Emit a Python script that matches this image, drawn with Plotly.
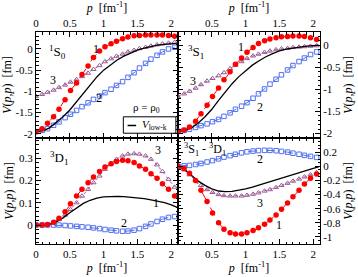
import plotly.graph_objects as go
from plotly.subplots import make_subplots

# momentum grid of the mesh points [fm^-1]
p_pts = [0.0, 0.09, 0.17, 0.26, 0.34, 0.43, 0.51, 0.6, 0.68, 0.77, 0.85, 0.94, 1.02,
         1.11, 1.19, 1.28, 1.36, 1.45, 1.53, 1.62, 1.7, 1.79, 1.87, 1.96, 2.05]
# grid of V_low-k line
p_line = [0.0, 0.1, 0.2, 0.3, 0.4, 0.5, 0.6, 0.7, 0.8, 0.9, 1.0, 1.1, 1.2, 1.3, 1.4,
          1.5, 1.6, 1.7, 1.8, 1.9, 2.0, 2.08]

# 1S0
s0_1 = [-1.95, -1.88, -1.75, -1.6, -1.42, -1.2, -0.98, -0.8, -0.6, -0.4, -0.2, -0.05, 0.05,
        0.12, 0.18, 0.24, 0.28, 0.31, 0.32, 0.33, 0.33, 0.33, 0.33, 0.32, 0.30]
s0_2 = [-1.95, -1.92, -1.88, -1.8, -1.72, -1.62, -1.54, -1.45, -1.36, -1.27, -1.19, -1.11, -1.03,
        -0.95, -0.86, -0.77, -0.67, -0.56, -0.45, -0.34, -0.24, -0.15, -0.07, 0.0, 0.04]
s0_3 = [-1.12, -1.07, -1.02, -0.97, -0.91, -0.85, -0.78, -0.72, -0.65, -0.57, -0.48, -0.39, -0.3,
        -0.23, -0.17, -0.12, -0.07, -0.03, 0.01, 0.04, 0.07, 0.1, 0.12, 0.14, 0.16]
s0_lk = [-1.95, -1.93, -1.86, -1.74, -1.6, -1.44, -1.25, -1.05, -0.85, -0.66, -0.5, -0.37, -0.26,
         -0.17, -0.09, -0.03, 0.02, 0.06, 0.09, 0.11, 0.12, 0.13]

# 3S1
s1_1 = [-1.95, -1.92, -1.85, -1.72, -1.55, -1.36, -1.16, -0.97, -0.78, -0.6, -0.43, -0.29, -0.16,
        -0.05, 0.04, 0.1, 0.14, 0.17, 0.19, 0.2, 0.21, 0.21, 0.2, 0.17, 0.13]
s1_2 = [-1.95, -1.93, -1.9, -1.86, -1.82, -1.78, -1.73, -1.68, -1.61, -1.53, -1.45, -1.38, -1.3,
        -1.2, -1.1, -0.99, -0.88, -0.77, -0.67, -0.56, -0.46, -0.37, -0.29, -0.21, -0.15]
s1_3 = [-1.16, -1.1, -1.04, -0.97, -0.89, -0.81, -0.75, -0.69, -0.62, -0.53, -0.45, -0.37, -0.3,
        -0.24, -0.2, -0.16, -0.13, -0.1, -0.08, -0.07, -0.05, -0.04, -0.03, -0.02, -0.01]
s1_lk = [-1.95, -1.93, -1.87, -1.76, -1.62, -1.45, -1.25, -1.05, -0.87, -0.71, -0.57, -0.45, -0.35,
         -0.26, -0.19, -0.13, -0.09, -0.06, -0.04, -0.02, -0.01, 0.0]

# 3D1
d1_1 = [0.0, 0.0, 0.002, 0.012, 0.03, 0.06, 0.095, 0.13, 0.16, 0.19, 0.215, 0.24, 0.26,
        0.275, 0.285, 0.29, 0.288, 0.28, 0.265, 0.25, 0.23, 0.21, 0.185, 0.16, 0.13]
d1_2 = [0.0, 0.0, 0.0, 0.0, 0.0, -0.002, -0.004, -0.006, -0.008, -0.01, -0.013, -0.016, -0.02,
        -0.023, -0.026, -0.028, -0.027, -0.023, -0.016, -0.006, 0.005, 0.016, 0.026, 0.034, 0.038]
d1_3 = [0.0, 0.0, 0.002, 0.01, 0.025, 0.045, 0.07, 0.1, 0.13, 0.16, 0.19, 0.22, 0.25,
        0.275, 0.295, 0.31, 0.318, 0.32, 0.318, 0.31, 0.295, 0.27, 0.24, 0.205, 0.17]
d1_lk = [0.0, 0.0, 0.003, 0.014, 0.032, 0.055, 0.078, 0.097, 0.111, 0.121, 0.126, 0.128, 0.128,
         0.127, 0.125, 0.122, 0.118, 0.113, 0.107, 0.1, 0.09, 0.08]

# 3S1 - 3D1
sd_1 = [0.0, -0.03, -0.1, -0.2, -0.34, -0.5, -0.66, -0.8, -0.89, -0.94, -0.96, -0.96, -0.94,
        -0.91, -0.87, -0.82, -0.76, -0.69, -0.61, -0.52, -0.43, -0.34, -0.25, -0.17, -0.11]
sd_2 = [0.0, 0.005, 0.012, 0.025, 0.04, 0.06, 0.08, 0.105, 0.13, 0.15, 0.17, 0.19, 0.205,
        0.215, 0.222, 0.225, 0.225, 0.22, 0.21, 0.2, 0.185, 0.17, 0.155, 0.14, 0.125]
sd_3 = [0.0, -0.05, -0.12, -0.2, -0.27, -0.33, -0.37, -0.4, -0.415, -0.42, -0.42, -0.42, -0.41,
        -0.395, -0.375, -0.35, -0.33, -0.3, -0.27, -0.24, -0.21, -0.18, -0.15, -0.12, -0.09]
sd_lk = [0.0, -0.05, -0.13, -0.21, -0.27, -0.32, -0.35, -0.36, -0.355, -0.34, -0.32, -0.295, -0.265,
         -0.235, -0.2, -0.17, -0.14, -0.11, -0.08, -0.055, -0.03, -0.01]

RED = "#ff0000"
BLUE = "#4f6ff0"
PURP = "#9a5a92"
FONT = "Liberation Serif"

fig = make_subplots(rows=2, cols=2, horizontal_spacing=0, vertical_spacing=0)

panels = [
    (1, 1, s0_1, s0_2, s0_3, s0_lk),
    (1, 2, s1_1, s1_2, s1_3, s1_lk),
    (2, 1, d1_1, d1_2, d1_3, d1_lk),
    (2, 2, sd_1, sd_2, sd_3, sd_lk),
]
for r, c, v1, v2, v3, vlk in panels:
    fig.add_trace(go.Scatter(x=p_pts, y=v3, mode="lines+markers",
                             line=dict(color=PURP, width=1, dash="dot"),
                             marker=dict(symbol="triangle-up-open", size=4.5, color=PURP,
                                         line=dict(width=1)),
                             showlegend=False), row=r, col=c)
    fig.add_trace(go.Scatter(x=p_pts, y=v2, mode="lines+markers",
                             line=dict(color=BLUE, width=1, dash="dash"),
                             marker=dict(symbol="square-open", size=4.5, color=BLUE,
                                         line=dict(width=1)),
                             showlegend=False), row=r, col=c)
    fig.add_trace(go.Scatter(x=p_line, y=vlk, mode="lines",
                             line=dict(color="black", width=1.3),
                             showlegend=False), row=r, col=c)
    fig.add_trace(go.Scatter(x=p_pts, y=v1, mode="lines+markers",
                             line=dict(color=RED, width=1, dash="dash"),
                             marker=dict(symbol="circle", size=5.5, color=RED),
                             showlegend=False), row=r, col=c)

axcommon = dict(showline=True, linecolor="black", linewidth=1, ticks="inside",
                ticklen=5, tickcolor="black", mirror="ticks", showgrid=False,
                zeroline=False, automargin=False,
                tickfont=dict(family=FONT, size=11, color="black"),
                title_font=dict(family=FONT, size=12, color="black"))
xtitle = "<i>p</i>  [fm<sup>-1</sup>]"
ytitle = "<i>V</i>(<i>p</i>,<i>p</i>)  [fm]"
xminor = dict(ticks="inside", dtick=0.1, ticklen=2.5, tickcolor="black")

fig.update_layout(
    xaxis=dict(axcommon, domain=[0, 0.5], range=[0, 2.1], side="top", anchor="y",
               tickvals=[0, 0.5, 1, 1.5, 2], ticktext=["0", "0.5", "1", "1.5", "2"],
               minor=xminor, title=dict(text=xtitle, standoff=4)),
    xaxis2=dict(axcommon, domain=[0.5, 1], range=[0, 2.1], side="top", anchor="y2",
                tickvals=[0.5, 1, 1.5, 2], ticktext=["0.5", "1", "1.5", "2"],
                minor=xminor, title=dict(text=xtitle, standoff=4)),
    xaxis3=dict(axcommon, domain=[0, 0.5], range=[0, 2.1], side="bottom", anchor="y3",
                tickvals=[0, 0.5, 1, 1.5, 2], ticktext=["0", "0.5", "1", "1.5", "2"],
                minor=xminor, title=dict(text=xtitle, standoff=4)),
    xaxis4=dict(axcommon, domain=[0.5, 1], range=[0, 2.1], side="bottom", anchor="y4",
                tickvals=[0.5, 1, 1.5, 2], ticktext=["0.5", "1", "1.5", "2"],
                minor=xminor, title=dict(text=xtitle, standoff=4)),
    yaxis=dict(axcommon, domain=[0.5, 1], range=[-2.1, 0.4], side="left", anchor="x",
               tickvals=[-2, -1.5, -1, -0.5, 0], ticktext=["-2", "-1.5", "-1", "-0.5", "0"],
               minor=dict(ticks="inside", dtick=0.1, ticklen=2.5, tickcolor="black"),
               title=dict(text=ytitle, standoff=2)),
    yaxis2=dict(axcommon, domain=[0.5, 1], range=[-2.1, 0.3], side="right", anchor="x2",
                tickvals=[-2, -1.5, -1, -0.5, 0], ticktext=["-2", "-1.5", "-1", "-0.5", "0"],
                minor=dict(ticks="inside", dtick=0.1, ticklen=2.5, tickcolor="black"),
                title=dict(text=ytitle, standoff=2)),
    yaxis3=dict(axcommon, domain=[0, 0.5], range=[-0.085, 0.39], side="left", anchor="x3",
                tickvals=[0, 0.1, 0.2, 0.3], ticktext=["0", "0.1", "0.2", "0.3"],
                minor=dict(ticks="inside", dtick=0.02, ticklen=2.5, tickcolor="black"),
                title=dict(text=ytitle, standoff=2)),
    yaxis4=dict(axcommon, domain=[0, 0.5], range=[-1.1, 0.4], side="right", anchor="x4",
                tickvals=[-1, -0.8, -0.6, -0.4, -0.2, 0, 0.2],
                ticktext=["-1", "-0.8", "-0.6", "-0.4", "-0.2", "0", "0.2"],
                minor=dict(ticks="inside", dtick=0.05, ticklen=2.5, tickcolor="black"),
                title=dict(text=ytitle, standoff=2)),
)

def lab(text, x, y, xr, yr, size=12, xanchor="center"):
    fig.add_annotation(text=text, x=x, y=y, xref=xr, yref=yr, showarrow=False,
                       xanchor=xanchor,
                       font=dict(family=FONT, size=size, color="black"))

# 1S0 panel labels
lab("<sup>1</sup>S<sub>0</sub>", 0.32, -0.07, "x", "y", 13)
lab("1", 0.88, 0.0, "x", "y")
lab("3", 0.25, -0.74, "x", "y")
lab("2", 0.93, -1.15, "x", "y")
lab("ρ = ρ<sub>0</sub>", 1.63, -1.4, "x", "y", 11)
# 3S1
lab("<sup>3</sup>S<sub>1</sub>", 0.27, -0.16, "x2", "y2", 13)
lab("1", 0.93, -0.05, "x2", "y2")
lab("3", 0.22, -0.82, "x2", "y2")
lab("2", 1.21, -1.4, "x2", "y2")
# 3D1
lab("<sup>3</sup>D<sub>1</sub>", 0.34, 0.3, "x3", "y3", 13)
lab("3", 1.8, 0.335, "x3", "y3")
lab("1", 1.78, 0.1, "x3", "y3")
lab("2", 1.3, 0.01, "x3", "y3")
# 3S1 - 3D1
lab("<sup>3</sup>S<sub>1</sub> - <sup>3</sup>D<sub>1</sub>", 0.06, 0.24, "x4", "y4", 12, "left")
lab("2", 1.21, 0.1, "x4", "y4")
lab("3", 1.21, -0.52, "x4", "y4")
lab("1", 1.5, -0.83, "x4", "y4")

# manual legend for V_low-k in the 1S0 panel
fig.add_shape(type="rect", xref="x domain", yref="y domain", x0=0.615, x1=0.985,
              y0=0.045, y1=0.2, line=dict(color="black", width=1), fillcolor="white")
fig.add_shape(type="line", xref="x domain", yref="y domain", x0=0.645, x1=0.705,
              y0=0.118, y1=0.118, line=dict(color="black", width=1.5))
fig.add_annotation(text="<i>V</i><sub>low-k</sub>", xref="x domain", yref="y domain",
                   x=0.73, y=0.12, xanchor="left", yanchor="middle", showarrow=False,
                   font=dict(family=FONT, size=11, color="black"))

fig.update_layout(width=358, height=277, margin=dict(l=36, r=38, t=32, b=33),
                  paper_bgcolor="white", plot_bgcolor="white",
                  font=dict(family=FONT, size=11, color="black"), showlegend=False)

fig.write_html("out.html", config={"displayModeBar": False},
               post_script="document.body.style.margin='0';")
